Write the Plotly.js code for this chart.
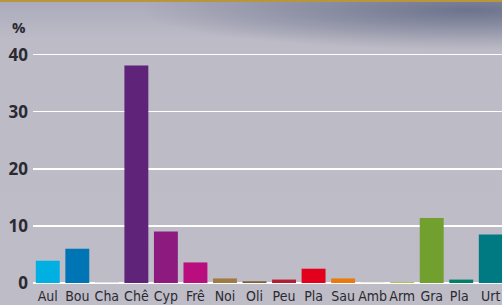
<!DOCTYPE html>
<html><head><meta charset="utf-8">
<script src="https://cdn.plot.ly/plotly-3.0.1.min.js"></script>
<style>
html,body{margin:0;padding:0;}
body{width:502px;height:305px;overflow:hidden;
background:
 linear-gradient(to bottom, #b8963e 0px, #b8963e 2px, rgba(0,0,0,0) 2px),
 radial-gradient(ellipse 330px 40px at 470px 10px, rgba(105,112,138,0.95) 0%, rgba(105,112,138,0.0) 100%),
 linear-gradient(to bottom, #a9aabb 0px, #bdbbc6 40px, #bebcc6 100%);}
#chart{width:502px;height:305px;}
</style></head>
<body><div id="chart"></div>
<script>
const categories = ["Aul","Bou","Cha","Chê","Cyp","Frê","Noi","Oli","Peu","Pla","Sau","Amb","Arm","Gra","Pla ","Urt"];
const values = [3.9, 6.0, 0.1, 38.1, 9.0, 3.6, 0.8, 0.3, 0.6, 2.5, 0.8, 0.15, 0.2, 11.4, 0.6, 8.5];
const colors = ["#00b0e2","#0075b6","#c9cbd8","#5f237a","#8d1b7f","#b90f7e","#a07a45","#7d5c34","#b21d32","#e2001c","#ea7a0c","#ecebd8","#a9c45a","#72a02e","#00806a","#007a82"];
const yTicks = [0,10,20,30,40];

const trace = {type:"bar", x: categories, y: values, marker:{color: colors}, hoverinfo:"none"};
const layout = {
  width:502, height:305,
  margin:{l:33, r:0, t:0, b:22, pad:0},
  paper_bgcolor:"rgba(0,0,0,0)", plot_bgcolor:"rgba(0,0,0,0)",
  bargap:0.19,
  showlegend:false,
  xaxis:{type:"category", range:[-0.5, 15.38], showgrid:false, showline:false, zeroline:false,
    ticks:"", tickangle:0, ticklabelstandoff:3,
    tickfont:{family:"DejaVu Sans Condensed, sans-serif", size:14, color:"#2a2a30", stretch:"condensed"}, fixedrange:true},
  yaxis:{range:[0, 49.56], tickvals:yTicks, ticktext:yTicks.map(String), showgrid:true, gridcolor:"#ffffff", gridwidth:1.5,
    zeroline:true, zerolinecolor:"#ffffff", zerolinewidth:2, showline:false,
    ticks:"", ticklabelstandoff:4,
    tickfont:{family:"Open Sans, sans-serif", size:17, color:"#2a2a30", weight:700}, fixedrange:true},
  annotations:[{xref:"paper", yref:"paper", x:-0.03, y:0.905, xanchor:"center", yanchor:"middle", showarrow:false,
    text:"%", font:{family:"Open Sans, sans-serif", size:15, color:"#2a2a30", weight:700}}]
};
Plotly.newPlot("chart",[trace],layout,{staticPlot:true, displayModeBar:false});
</script></body></html>
